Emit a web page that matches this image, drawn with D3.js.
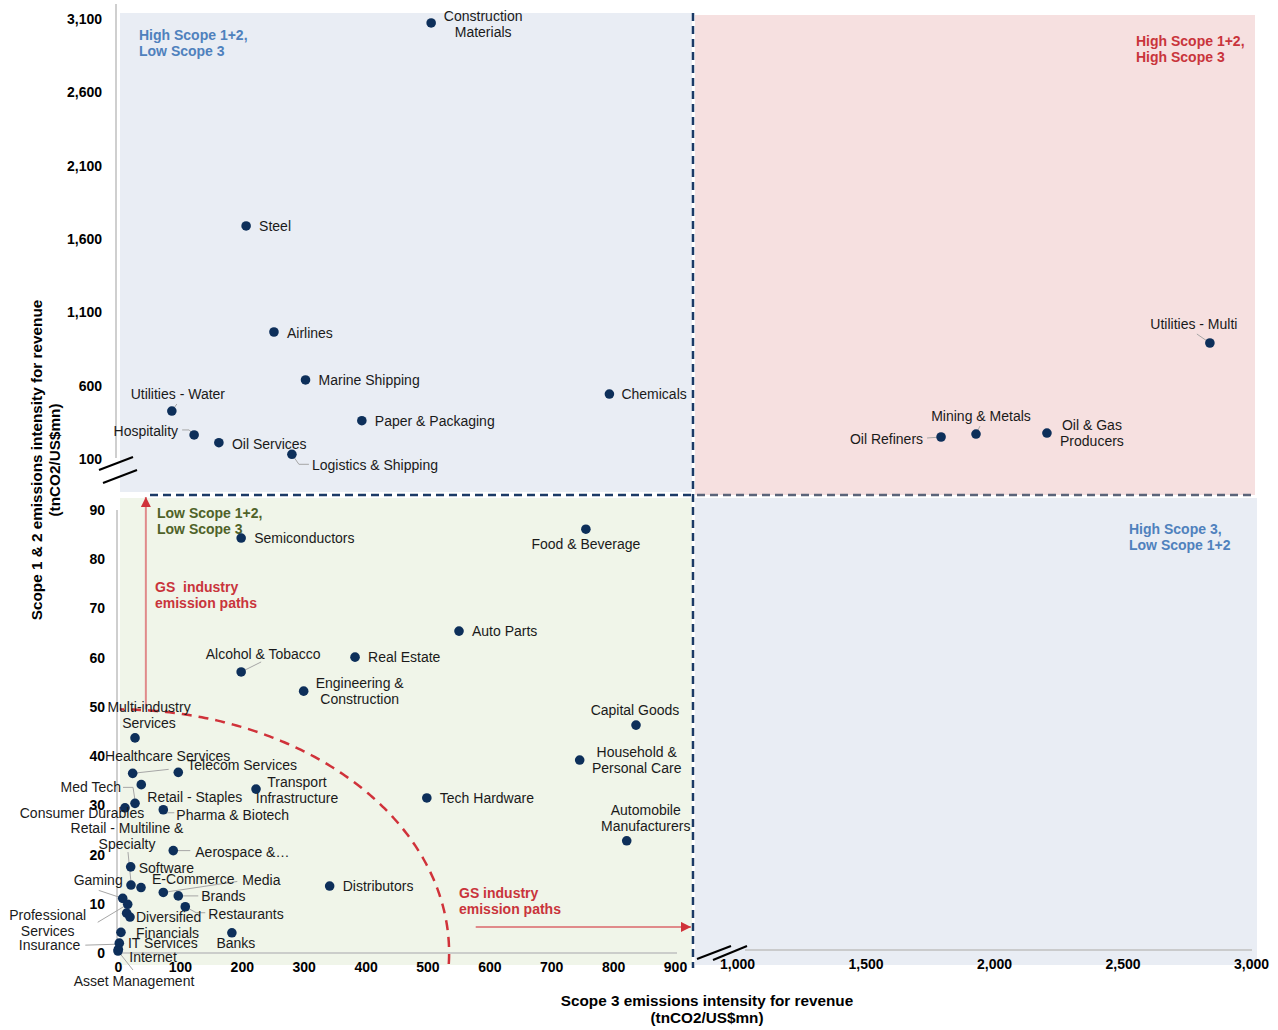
<!DOCTYPE html>
<html>
<head>
<meta charset="utf-8">
<script src="https://cdn.jsdelivr.net/npm/d3@7"></script>
<style>
  body { margin: 0; background: #fff; font-family: "Liberation Sans", Arial, sans-serif; }
</style>
</head>
<body>
<div id="chart"></div>
<script>
// Industry data
const industries = [
  "Construction Materials", "Steel", "Airlines", "Marine Shipping", "Chemicals",
  "Utilities - Water", "Paper & Packaging", "Hospitality", "Oil Services", "Logistics & Shipping",
  "Utilities - Multi", "Oil Refiners", "Mining & Metals", "Oil & Gas Producers",
  "Semiconductors", "Food & Beverage", "Auto Parts", "Real Estate", "Alcohol & Tobacco",
  "Engineering & Construction", "Capital Goods", "Multi-industry Services", "Household & Personal Care",
  "Healthcare Services", "Telecom Services", "Retail - Staples", "Transport Infrastructure", "Med Tech",
  "Consumer Durables", "Pharma & Biotech", "Tech Hardware", "Automobile Manufacturers", "Aerospace &…",
  "Software", "Retail - Multiline & Specialty", "E-Commerce", "Media", "Distributors", "Brands",
  "Gaming", "Professional Services", "", "Diversified Financials", "Restaurants", "Banks",
  "IT Services", "Insurance", "Internet", "Asset Management"
];
const scope3 = [
  506, 207, 252, 303, 794,
  87, 394, 123, 163, 281,
  2840, 1794, 1930, 2206,
  199, 756, 551, 383, 199,
  300, 837, 27.5, 746,
  23.7, 97.4, 37.6, 223, 27.5,
  11.3, 73.2, 499, 822, 89.3,
  20.5, 21, 37.2, 73.2, 342, 97.4,
  7.6, 15.7, 14, 19.4, 108.7, 184,
  4.8, 2.1, 0.5, 0
];
const scope12 = [
  3073, 1689, 966, 639, 543,
  427, 361, 264, 211, 132,
  891, 250, 270, 277,
  84.3, 86.1, 65.4, 60.1, 57.1,
  53.2, 46.3, 43.7, 39.2,
  36.5, 36.7, 34.2, 33.3, 30.4,
  29.5, 29.1, 31.5, 22.8, 20.8,
  17.5, 13.8, 13.3, 12.3, 13.6, 11.6,
  11.1, 9.9, 8.1, 7.3, 9.4, 4.1,
  4.2, 2.0, 0.75, 0.4
];

// Tick labels for the broken axes
const xLowTicks = [0, 100, 200, 300, 400, 500, 600, 700, 800, 900];
const xHighTicks = [1000, 1500, 2000, 2500, 3000];
const yLowTicks = [0, 10, 20, 30, 40, 50, 60, 70, 80, 90];
const yHighTicks = [100, 600, 1100, 1600, 2100, 2600, 3100];

const width = 1278;
const height = 1030;

const svg = d3.select("#chart").append("svg")
    .attr("width", width)
    .attr("height", height);

// Broken scales: low and high part for each axis
const xLow = d3.scaleLinear().domain([0, 900]).range([118, 675]);
const xHigh = d3.scaleLinear().domain([1000, 3000]).range([737, 1251]);
const yLow = d3.scaleLinear().domain([0, 90]).range([953, 510]);
const yHigh = d3.scaleLinear().domain([100, 3100]).range([459, 19]);

const sx = v => v <= 930 ? xLow(v) : xHigh(v);
const sy = v => v >= 95 ? yHigh(v) : yLow(v);

const data = industries.map((name, i) => ({ name, x: scope3[i], y: scope12[i] }));

// Quadrant backgrounds
const quads = [
  { x: 120, y: 13, w: 572, h: 479, fill: "#e9edf4" },
  { x: 695, y: 15, w: 560, h: 480, fill: "#f6e0e0" },
  { x: 120, y: 498, w: 572, h: 467, fill: "#f0f5e9" },
  { x: 695, y: 498, w: 562, h: 467, fill: "#e9edf4" }
];
svg.selectAll("rect.quad")
    .data(quads)
    .enter().append("rect")
    .attr("class", "quad")
    .attr("x", d => d.x).attr("y", d => d.y)
    .attr("width", d => d.w).attr("height", d => d.h)
    .attr("fill", d => d.fill);

// Axis lines (grey)
const grey = "#bfbfbf";
const axisLines = [
  [116, 4, 116, 458],
  [117, 510, 117, 953],
  [117, 953, 677, 953],
  [745, 950, 1252, 950]
];
svg.selectAll("line.axisline")
    .data(axisLines)
    .enter().append("line")
    .attr("x1", d => d[0]).attr("y1", d => d[1])
    .attr("x2", d => d[2]).attr("y2", d => d[3])
    .attr("stroke", grey).attr("stroke-width", 1.5);

// Break marks
const breaks = [
  [99, 470, 133, 457], [103, 483, 137, 470],
  [697, 959, 731, 946], [713, 960, 747, 946]
];
svg.selectAll("line.brk")
    .data(breaks)
    .enter().append("line")
    .attr("x1", d => d[0]).attr("y1", d => d[1])
    .attr("x2", d => d[2]).attr("y2", d => d[3])
    .attr("stroke", "#000").attr("stroke-width", 2);

// Axes
function styleAxis(g) {
  g.select(".domain").remove();
  g.selectAll("text")
      .attr("font-family", "'Liberation Sans', Arial, sans-serif")
      .attr("font-size", 14)
      .attr("font-weight", "bold")
      .attr("fill", "#000");
}
const fmt = d3.format(",");
svg.append("g").attr("transform", "translate(116,0)")
    .call(d3.axisLeft(yHigh).tickValues(yHighTicks).tickSize(0).tickPadding(14).tickFormat(fmt))
    .call(styleAxis);
svg.append("g").attr("transform", "translate(118,0)")
    .call(d3.axisLeft(yLow).tickValues(yLowTicks).tickSize(0).tickPadding(13))
    .call(styleAxis);
svg.append("g").attr("transform", "translate(0,953)")
    .call(d3.axisBottom(xLow).tickValues(xLowTicks).tickSize(0).tickPadding(9))
    .call(styleAxis);
svg.append("g").attr("transform", "translate(0,950)")
    .call(d3.axisBottom(xHigh).tickValues(xHighTicks).tickSize(0).tickPadding(9).tickFormat(fmt))
    .call(styleAxis);

// Axis titles
svg.append("text")
    .attr("x", 707).attr("y", 1006)
    .attr("text-anchor", "middle")
    .attr("font-size", 15.3).attr("font-weight", "bold")
    .selectAll("tspan")
    .data(["Scope 3 emissions intensity for revenue", "(tnCO2/US$mn)"])
    .enter().append("tspan")
    .attr("x", 707).attr("dy", (d, i) => i ? 17 : 0)
    .text(d => d);

svg.append("text")
    .attr("transform", "translate(42,460) rotate(-90)")
    .attr("text-anchor", "middle")
    .attr("font-size", 15.3).attr("font-weight", "bold")
    .selectAll("tspan")
    .data(["Scope 1 & 2 emissions intensity for revenue", "(tnCO2/US$mn)"])
    .enter().append("tspan")
    .attr("x", 0).attr("dy", (d, i) => i ? 18 : 0)
    .text(d => d);

// Quadrant divider dashed lines
svg.append("line")
    .attr("x1", 693).attr("y1", 13).attr("x2", 693).attr("y2", 968)
    .attr("stroke", "#1b3a66").attr("stroke-width", 2.5)
    .attr("stroke-dasharray", "8,5");
svg.append("line")
    .attr("x1", 150).attr("y1", 495).attr("x2", 692).attr("y2", 495)
    .attr("stroke", "#1b3a66").attr("stroke-width", 2.5)
    .attr("stroke-dasharray", "8,5");
svg.append("line")
    .attr("x1", 697).attr("y1", 495).attr("x2", 1255).attr("y2", 495)
    .attr("stroke", "#5b6479").attr("stroke-width", 2.5)
    .attr("stroke-dasharray", "8,5");

// Emission path arc (quarter ellipse) and arrows
const red = "#d0323a";
const arcA = 535, arcB = 49.5;
const arcPts = d3.range(-0.045, Math.PI / 2 + 0.001, 0.01)
    .map(t => [xLow(arcA * Math.cos(t)), yLow(arcB * Math.sin(t))]);
svg.append("path")
    .attr("d", d3.line()(arcPts))
    .attr("fill", "none")
    .attr("stroke", red).attr("stroke-width", 2.5)
    .attr("stroke-dasharray", "10,7");

svg.append("defs").append("marker")
    .attr("id", "arrow")
    .attr("viewBox", "0 0 10 10")
    .attr("refX", 10).attr("refY", 5)
    .attr("markerWidth", 10).attr("markerHeight", 10)
    .attr("markerUnits", "userSpaceOnUse")
    .attr("orient", "auto")
    .append("path")
    .attr("d", "M0,0L10,5L0,10Z")
    .attr("fill", red);

svg.append("line")
    .attr("x1", xLow(45)).attr("y1", yLow(49.5))
    .attr("x2", xLow(45)).attr("y2", 497)
    .attr("stroke", "#e08a8a").attr("stroke-width", 2)
    .attr("marker-end", "url(#arrow)");
svg.append("line")
    .attr("x1", xLow(578)).attr("y1", yLow(5.3))
    .attr("x2", 691).attr("y2", yLow(5.3))
    .attr("stroke", "#e08a8a").attr("stroke-width", 2)
    .attr("marker-end", "url(#arrow)");

// Quadrant and annotation notes
const notes = [
  { x: 139, y: 35, lines: ["High Scope 1+2,", "Low Scope 3"], color: "#4f81bd" },
  { x: 1136, y: 41, lines: ["High Scope 1+2,", "High Scope 3"], color: "#c9343b" },
  { x: 1129, y: 529, lines: ["High Scope 3,", "Low Scope 1+2"], color: "#4f81bd" },
  { x: 157, y: 513, lines: ["Low Scope 1+2,", "Low Scope 3"], color: "#4f6228" },
  { x: 155, y: 587, lines: ["GS  industry", "emission paths"], color: "#c9343b" },
  { x: 459, y: 893, lines: ["GS industry", "emission paths"], color: "#c9343b" }
];
notes.forEach(n => {
  svg.append("text")
      .attr("x", n.x).attr("y", n.y)
      .attr("font-size", 14).attr("font-weight", "bold")
      .attr("fill", n.color)
      .style("white-space", "pre")
      .selectAll("tspan")
      .data(n.lines)
      .enter().append("tspan")
      .attr("x", n.x)
      .attr("y", (d, i) => n.y + i * 16)
      .attr("dy", "0.35em")
      .text(d => d);
});

// Label placement around each dot: offsets in px, first-line centre
const labelLayout = {
  "Construction Materials": { dx: 52, dy: -7, a: "middle", lines: ["Construction", "Materials"] },
  "Steel": { dx: 13, dy: 0 },
  "Airlines": { dx: 13, dy: 1 },
  "Marine Shipping": { dx: 13, dy: 0 },
  "Chemicals": { dx: 12, dy: 0 },
  "Utilities - Water": { dx: 6, dy: -17, a: "middle", leader: [[0, 0], [5, -7]] },
  "Paper & Packaging": { dx: 13, dy: 0 },
  "Hospitality": { dx: -16, dy: -4, a: "end", leader: [[0, 0], [-5, -5], [-12, -5]] },
  "Oil Services": { dx: 13, dy: 1 },
  "Logistics & Shipping": { dx: 20, dy: 11, leader: [[0, 0], [7, 10], [17, 10]] },
  "Utilities - Multi": { dx: -16, dy: -19, a: "middle", leader: [[0, 0], [-13, -9]] },
  "Oil Refiners": { dx: -18, dy: 2, a: "end", leader: [[0, 0], [-14, 1]] },
  "Mining & Metals": { dx: 5, dy: -18, a: "middle", leader: [[0, 0], [4, -8]] },
  "Oil & Gas Producers": { dx: 45, dy: -8, a: "middle", lines: ["Oil & Gas", "Producers"] },
  "Semiconductors": { dx: 13, dy: 0 },
  "Food & Beverage": { dx: 0, dy: 15, a: "middle" },
  "Auto Parts": { dx: 13, dy: 0 },
  "Real Estate": { dx: 13, dy: 0 },
  "Alcohol & Tobacco": { dx: 22, dy: -18, a: "middle", leader: [[0, 0], [20, -10]] },
  "Engineering & Construction": { dx: 56, dy: -8, a: "middle", lines: ["Engineering &", "Construction"] },
  "Capital Goods": { dx: -1, dy: -15, a: "middle" },
  "Multi-industry Services": { dx: 14, dy: -31, a: "middle", lines: ["Multi-industry", "Services"] },
  "Household & Personal Care": { dx: 57, dy: -8, a: "middle", lines: ["Household &", "Personal Care"] },
  "Healthcare Services": { dx: 35, dy: -17, a: "middle", leader: [[0, 0], [36, -4]] },
  "Telecom Services": { dx: 9, dy: -7 },
  "Retail - Staples": { dx: 6, dy: 12 },
  "Transport Infrastructure": { dx: 41, dy: -7, a: "middle", lines: ["Transport", "Infrastructure"] },
  "Med Tech": { dx: -14, dy: -16, a: "end", leader: [[0, -3], [-2, -16], [-12, -16]] },
  "Consumer Durables": { dx: -43, dy: 5, a: "middle" },
  "Pharma & Biotech": { dx: 13, dy: 5, leader: [[0, 0], [4, 3], [11, 3]] },
  "Tech Hardware": { dx: 13, dy: 0 },
  "Automobile Manufacturers": { dx: 19, dy: -31, a: "middle", lines: ["Automobile", "Manufacturers"] },
  "Aerospace &…": { dx: 22, dy: 1, leader: [[0, 0], [17, 0]] },
  "Software": { dx: 8, dy: 1 },
  "Retail - Multiline & Specialty": { dx: -4, dy: -57, a: "middle", lines: ["Retail - Multiline &", "Specialty"], leader: [[0, -3], [-3, -33]] },
  "E-Commerce": { dx: 11, dy: -8 },
  "Media": { dx: 79, dy: -12, leader: [[0, 0], [74, -11]] },
  "Distributors": { dx: 13, dy: 0 },
  "Brands": { dx: 23, dy: 0, leader: [[0, 0], [20, 0]] },
  "Gaming": { dx: 0, dy: -18, a: "end", leader: [[0, 0], [-24, -8]] },
  "Professional Services": { dx: -80, dy: 11, a: "middle", lines: ["Professional", "Services"], leader: [[0, 0], [-30, 18]] },
  "Diversified Financials": { dx: 6, dy: 0, lines: ["Diversified", "Financials"] },
  "Restaurants": { dx: 23, dy: 7, leader: [[0, 0], [11, 6], [20, 6]] },
  "Banks": { dx: 4, dy: 10, a: "middle" },
  "IT Services": { dx: 7, dy: 11 },
  "Insurance": { dx: -39, dy: 2, a: "end", leader: [[0, 1], [-34, 2]] },
  "Internet": { dx: 11, dy: 8 },
  "Asset Management": { dx: 16, dy: 30, a: "middle", leader: [[0, 0], [15, 19]] }
};

// Leader lines
const leaderG = svg.append("g");
data.forEach(d => {
  const l = labelLayout[d.name];
  if (!l || !l.leader) return;
  const cx = sx(d.x), cy = sy(d.y);
  leaderG.append("path")
      .attr("d", d3.line()(l.leader.map(p => [cx + p[0], cy + p[1]])))
      .attr("fill", "none")
      .attr("stroke", "#a6a6a6").attr("stroke-width", 1);
});

// Dots
svg.append("g")
    .selectAll("circle")
    .data(data)
    .enter().append("circle")
    .attr("cx", d => sx(d.x))
    .attr("cy", d => sy(d.y))
    .attr("r", 4.8)
    .attr("fill", "#0d2f5a");

// Labels
const labelG = svg.append("g");
data.forEach(d => {
  const l = labelLayout[d.name];
  if (!l) return;
  const cx = sx(d.x), cy = sy(d.y);
  const lines = l.lines || [d.name];
  labelG.append("text")
      .attr("font-size", 14)
      .attr("fill", "#1a1a1a")
      .attr("text-anchor", l.a || "start")
      .selectAll("tspan")
      .data(lines)
      .enter().append("tspan")
      .attr("x", cx + l.dx)
      .attr("y", (t, i) => cy + l.dy + i * 16)
      .attr("dy", "0.35em")
      .text(t => t);
});
</script>
</body>
</html>
